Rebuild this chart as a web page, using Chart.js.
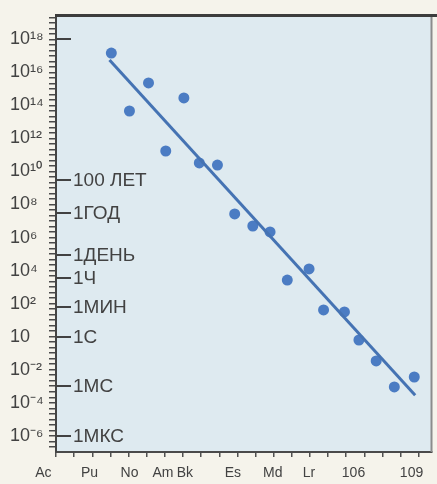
<!DOCTYPE html>
<html>
<head>
<meta charset="utf-8">
<script src="https://cdn.jsdelivr.net/npm/chart.js@4.4.1/dist/chart.umd.min.js"></script>
<style>
  html, body { margin: 0; padding: 0; background: #f5f3eb; }
  #wrap { position: relative; width: 437px; height: 484px; }
</style>
</head>
<body>
<div id="wrap"><canvas id="fission-chart"></canvas></div>
<script>
// Element labels along the bottom axis and where they sit (axis units).
var elementLabels    = ['Ac', 'Pu', 'No', 'Am', 'Bk', 'Es', 'Md', 'Lr', '106', '109'];
var elementPositions = [-0.7, 1.85, 4.05, 5.9, 7.1, 9.75, 11.95, 13.95, 16.4, 19.6];
var axisMarks        = [0, 1, 2, 3, 4, 5, 6, 7, 8, 9, 10, 11, 12, 13, 14, 15, 16, 17, 18, 19, 20];

// Measured half-lives: x position and log10 of seconds.
var pointX   = [3.05, 4.05, 5.1, 6.05, 7.05, 7.9, 8.9, 9.85, 10.85, 11.8, 12.75, 13.95, 14.75, 15.9, 16.7, 17.65, 18.65, 19.75];
var pointLog = [17.17, 13.66, 15.36, 11.24, 14.45, 10.52, 10.39, 7.43, 6.70, 6.34, 3.43, 4.10, 1.62, 1.50, -0.20, -1.47, -3.04, -2.44];

// Fitted trend line (ends).
var fitX   = [2.95, 19.8];
var fitLog = [16.75, -3.55];

// Left axis: powers of ten.
var powerExponents = [18, 16, 14, 12, 10, 8, 6, 4, 2, 0, -2, -4, -6];
var powerLabels    = ['10¹⁸', '10¹⁶', '10¹⁴', '10¹²', '10¹⁰', '10⁸', '10⁶', '10⁴', '10²', '10', '10⁻²', '10⁻⁴', '10⁻⁶'];

// Inner time scale (seconds).
var timeSeconds = [1e18, 3.156e9, 3.156e7, 86400, 3600, 60, 1, 1e-3, 1e-6];
var timeLabels  = ['', '100 ЛЕТ', '1ГОД', '1ДЕНЬ', '1Ч', '1МИН', '1С', '1МС', '1МКС'];

var INK = '#424242';

function toPoints(xs, logs) {
	return xs.map(function(x, i) {
		return { x: x, y: Math.pow(10, logs[i]) };
	});
}

// Paper + plot background, top and right frame lines.
var framePlugin = {
	id: 'frame',
	beforeDraw: function(chart) {
		var c = chart.ctx, a = chart.chartArea;
		c.save();
		c.fillStyle = '#f5f3eb';
		c.fillRect(0, 0, chart.width, chart.height);
		c.fillStyle = '#deeaf0';
		c.fillRect(a.left, a.top, a.right - a.left, a.bottom - a.top);
		c.restore();
	},
	afterDraw: function(chart) {
		var c = chart.ctx, a = chart.chartArea;
		c.save();
		c.strokeStyle = '#8a8c8c';
		c.lineWidth = 2;
		c.beginPath();
		c.moveTo(a.right, a.top);
		c.lineTo(a.right, a.bottom);
		c.stroke();
		c.strokeStyle = '#3c3c3c';
		c.lineWidth = 3;
		c.beginPath();
		c.moveTo(a.left - 1, a.top - 1.5);
		c.lineTo(chart.width, a.top - 1.5);
		c.stroke();
		c.restore();
	}
};

// Second scale inside the plot: durations in seconds on the same log axis.
var timeAxisPlugin = {
	id: 'timeAxis',
	afterDatasetsDraw: function(chart) {
		var y = chart.scales.y, a = chart.chartArea, c = chart.ctx;
		c.save();
		c.strokeStyle = INK;
		c.fillStyle = INK;
		c.lineWidth = 2;
		c.font = '19px "Liberation Sans", Arial, sans-serif';
		c.textBaseline = 'middle';
		timeSeconds.forEach(function(s, i) {
			var py = Math.round(y.getPixelForValue(s));
			c.beginPath();
			c.moveTo(a.left, py);
			c.lineTo(a.left + 15, py);
			c.stroke();
			if (timeLabels[i]) {
				c.fillText(timeLabels[i], a.left + 17, py + 1);
			}
		});
		c.restore();
	}
};

new Chart(document.getElementById('fission-chart').getContext('2d'), {
	type: 'scatter',
	data: {
		datasets: [
			{
				data: toPoints(fitX, fitLog),
				showLine: true,
				borderColor: '#4573b3',
				borderWidth: 3,
				pointRadius: 0
			},
			{
				data: toPoints(pointX, pointLog),
				backgroundColor: '#4b7cc3',
				borderWidth: 0,
				pointRadius: 5.5
			}
		]
	},
	options: {
		responsive: true,
		maintainAspectRatio: false,
		animation: false,
		events: [],
		layout: { padding: { left: 10, top: 17, right: 2, bottom: 0 } },
		plugins: {
			legend: { display: false },
			tooltip: { enabled: false }
		},
		scales: {
			x: {
				type: 'linear',
				min: 0,
				max: 20.7,
				afterBuildTicks: function(scale) {
					var ticks = axisMarks.map(function(v) { return { value: v, mark: true, name: '' }; });
					elementPositions.forEach(function(v, i) {
						ticks.push({ value: v, mark: false, name: elementLabels[i] });
					});
					ticks.sort(function(p, q) { return p.value - q.value; });
					scale.ticks = ticks;
				},
				afterFit: function(scale) { scale.height = 32; },
				ticks: {
					autoSkip: false,
					maxRotation: 0,
					minRotation: 0,
					padding: 8,
					color: INK,
					font: { family: '"Liberation Sans", Arial, sans-serif', size: 14 },
					callback: function(value, index, ticks) { return ticks[index].name; }
				},
				grid: {
					drawOnChartArea: false,
					tickLength: 5,
					lineWidth: 1.5,
					color: function(ctx) {
						return ctx.tick && ctx.tick.mark ? '#505050' : 'rgba(0,0,0,0)';
					}
				},
				border: { color: '#4a4a4a', width: 2 }
			},
			y: {
				type: 'logarithmic',
				min: Math.pow(10, -6.98),
				max: Math.pow(10, 19.35),
				// ruler marks every third of a decade
				afterBuildTicks: function(scale) {
					var ticks = [];
					for (var k = -21; k <= 58; k++) {
						var v = Math.pow(10, k / 3);
						if (v >= scale.min && v <= scale.max) {
							ticks.push({ value: v });
						}
					}
					scale.ticks = ticks;
				},
				afterFit: function(scale) { scale.width = 46; },
				ticks: {
					autoSkip: false,
					crossAlign: 'far',
					padding: 1,
					color: INK,
					font: { family: '"Liberation Sans", Arial, sans-serif', size: 18 },
					callback: function(value) {
						var e = Math.log10(value);
						for (var i = 0; i < powerExponents.length; i++) {
							if (Math.abs(powerExponents[i] - e) < 1e-6) {
								return powerLabels[i];
							}
						}
						return '';
					}
				},
				grid: {
					drawOnChartArea: false,
					tickLength: 7,
					lineWidth: 1.5,
					color: '#4a4a4a'
				},
				border: { color: '#444444', width: 2 }
			}
		}
	},
	plugins: [framePlugin, timeAxisPlugin]
});
</script>
</body>
</html>
